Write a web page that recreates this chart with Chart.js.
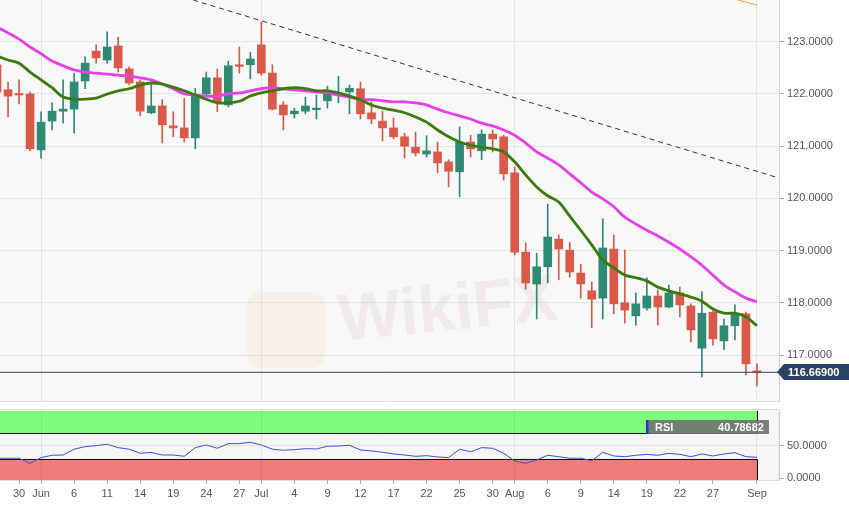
<!DOCTYPE html>
<html>
<head>
<meta charset="utf-8">
<title>EUR/JPY daily</title>
<script src="https://cdn.jsdelivr.net/npm/chart.js@4.4.1/dist/chart.umd.min.js"></script>
<style>
  html, body { margin: 0; padding: 0; background: #fff; }
  #wrap { position: relative; width: 849px; height: 511px; overflow: hidden; }
  #priceChart { position: absolute; left: 0; top: 0; }
  #rsiChart { position: absolute; left: 0; top: 402px; }
</style>
</head>
<body>
<div id="wrap">
  <canvas id="priceChart" width="849" height="402"></canvas>
  <canvas id="rsiChart" width="849" height="109"></canvas>
</div>
<script>
// --- Data ---
const days = [
  '2019-05-28','2019-05-29','2019-05-30','2019-05-31',
  '2019-06-03','2019-06-04','2019-06-05','2019-06-06','2019-06-07',
  '2019-06-10','2019-06-11','2019-06-12','2019-06-13','2019-06-14',
  '2019-06-17','2019-06-18','2019-06-19','2019-06-20','2019-06-21',
  '2019-06-24','2019-06-25','2019-06-26','2019-06-27','2019-06-28',
  '2019-07-01','2019-07-02','2019-07-03','2019-07-04','2019-07-05',
  '2019-07-08','2019-07-09','2019-07-10','2019-07-11','2019-07-12',
  '2019-07-15','2019-07-16','2019-07-17','2019-07-18','2019-07-19',
  '2019-07-22','2019-07-23','2019-07-24','2019-07-25','2019-07-26',
  '2019-07-29','2019-07-30','2019-07-31','2019-08-01','2019-08-02',
  '2019-08-05','2019-08-06','2019-08-07','2019-08-08','2019-08-09',
  '2019-08-12','2019-08-13','2019-08-14','2019-08-15','2019-08-16',
  '2019-08-19','2019-08-20','2019-08-21','2019-08-22','2019-08-23',
  '2019-08-26','2019-08-27','2019-08-28','2019-08-29','2019-08-30',
  '2019-09-02'
];

const opens = [
  122.56,122.08,121.99,122.00,120.93,121.48,121.67,121.71,122.25,122.82,
  122.65,122.92,122.48,122.23,121.64,121.77,121.39,121.35,121.16,122.00,
  122.31,121.79,122.56,122.56,122.94,122.40,121.79,121.62,121.67,121.70,
  121.87,121.98,122.04,122.10,121.64,121.48,121.35,121.18,120.98,120.85,
  120.89,120.70,120.51,121.08,120.91,121.23,121.18,120.49,118.97,118.36,
  118.69,119.22,119.01,118.57,118.23,118.09,119.03,118.00,117.75,117.90,
  118.13,117.92,118.19,117.94,117.13,117.82,117.27,117.56,117.79,116.69
];
const highs = [
  122.70,122.23,122.27,122.04,121.66,121.83,122.27,122.40,122.71,122.94,
  123.19,123.09,122.52,122.27,122.23,121.89,121.66,121.92,122.11,122.42,
  122.48,122.63,122.90,122.80,123.38,122.56,121.85,121.73,121.94,121.98,
  122.15,122.34,122.17,122.23,121.85,121.67,121.54,121.25,121.27,121.20,
  121.08,120.74,121.37,121.21,121.31,121.31,121.21,120.60,119.15,118.95,
  119.89,119.30,119.16,118.74,118.40,119.61,119.30,119.01,118.19,118.48,
  118.25,118.34,118.30,117.98,118.21,117.84,117.69,117.96,117.82,116.83
];
const lows = [
  121.95,121.56,121.81,120.91,120.77,121.31,121.44,121.25,122.10,122.59,
  122.59,122.42,122.17,121.58,121.62,121.06,121.18,121.08,120.95,121.96,
  121.66,121.75,122.40,122.29,122.36,121.69,121.31,121.54,121.62,121.52,
  121.73,121.83,121.62,121.52,121.43,121.10,121.14,120.77,120.81,120.79,
  120.49,120.22,120.03,120.79,120.74,120.89,120.35,118.92,118.26,117.69,
  118.38,118.44,118.49,118.09,117.52,117.69,117.79,117.61,117.57,117.86,
  117.57,117.90,117.73,117.25,116.58,117.19,117.10,117.29,116.62,116.41
];
const closes = [
  122.04,121.96,121.98,120.95,121.46,121.67,121.71,122.23,122.59,122.69,
  122.90,122.50,122.21,121.67,121.77,121.41,121.35,121.16,121.96,122.31,
  121.85,122.54,122.53,122.67,122.40,121.71,121.60,121.67,121.77,121.72,
  122.00,122.02,122.11,121.62,121.52,121.35,121.18,121.00,120.87,120.91,
  120.68,120.52,121.08,120.95,121.23,121.14,120.47,118.97,118.38,118.69,
  119.26,119.03,118.59,118.36,118.07,119.05,117.98,117.86,117.98,118.13,
  117.92,118.19,117.96,117.48,117.80,117.31,117.56,117.79,116.83,116.669
];

// moving averages as drawn (green = fast, magenta = slow)
const maFast = [
  122.73,122.65,122.59,122.42,122.27,122.12,121.94,121.90,121.90,121.92,
  122.00,122.06,122.10,122.17,122.21,122.19,122.13,122.06,121.98,121.90,
  121.83,121.83,121.86,121.96,122.02,122.06,122.10,122.12,122.10,122.06,
  122.06,122.02,121.96,121.89,121.79,121.73,121.69,121.64,121.56,121.46,
  121.31,121.18,121.08,121.02,120.98,120.95,120.89,120.70,120.45,120.22,
  120.05,119.93,119.66,119.39,119.11,118.82,118.67,118.53,118.48,118.42,
  118.30,118.23,118.17,118.11,118.03,117.88,117.80,117.80,117.73,117.56
];
const maSlow = [
  123.28,123.17,123.05,122.90,122.77,122.63,122.54,122.46,122.42,122.40,
  122.38,122.36,122.34,122.31,122.27,122.19,122.10,122.00,121.98,121.96,
  121.96,122.00,122.02,122.06,122.10,122.12,122.10,122.08,122.06,122.04,
  122.02,121.98,121.94,121.90,121.89,121.87,121.85,121.85,121.83,121.79,
  121.71,121.64,121.58,121.52,121.44,121.39,121.31,121.21,121.06,120.89,
  120.77,120.64,120.47,120.30,120.12,119.99,119.84,119.64,119.51,119.39,
  119.28,119.16,119.03,118.88,118.72,118.53,118.34,118.21,118.09,118.02
];

const rsi = [
  31,31,31,23,32,35.6,36,45,49,50.5,
  52.6,47.4,45,38.7,40,36,36,34,47.4,51.5,
  46.4,53.6,53.6,55.7,51.5,45,43.3,44.3,45.8,45.4,
  49.5,50,51,43.8,42.3,40.2,37.6,36,34,35,
  33,32,45,41,47.4,46.4,38.7,26.8,23.2,28.3,
  35.6,33.4,31,31,27.2,40.2,34.5,33.4,35.6,37,
  35.6,38.7,37,33.4,37.6,34.5,37.6,39.6,33.4,32.5
];

// trend lines (x in bar positions, y in price)
const trendX = [10, 71];
const trendY = [124.30, 120.39];
const upperX = [66, 69];
const upperY = [123.87, 123.705];

const lastPrice = 116.669;
const rsiLast = 40.78682;
const rsiUpper = 70;
const rsiLower = 30;

const priceTicks = [117, 118, 119, 120, 121, 122, 123];
const rsiTicks = [0, 50];
const monthStarts = ['2019-06-03', '2019-07-01', '2019-08-01', '2019-09-02'];
const xTickDays = [
  '2019-05-30','2019-06-03','2019-06-06','2019-06-11','2019-06-14','2019-06-19',
  '2019-06-24','2019-06-27','2019-07-01','2019-07-04','2019-07-09','2019-07-12',
  '2019-07-17','2019-07-22','2019-07-25','2019-07-30','2019-08-01','2019-08-06',
  '2019-08-09','2019-08-14','2019-08-19','2019-08-22','2019-08-27','2019-09-02'
];
const xTickLabels = [
  '30','Jun','6','11','14','19','24','27','Jul','4','9','12',
  '17','22','25','30','Aug','6','9','14','19','22','27','Sep'
];

// --- View settings ---
const X_MIN = 0.27, X_MAX = 71;
const UP = '#2f8a74', DOWN = '#da5a49';
const GRID = '#e4e4e4';

Chart.defaults.font.family = '"Liberation Sans", Arial, sans-serif';
Chart.defaults.font.size = 11;
Chart.defaults.color = '#555';

const idx = d => days.indexOf(d);
const candleColor = c => closes[c.dataIndex] >= opens[c.dataIndex] ? UP : DOWN;
const pts = (xs, ys) => xs.map((x, i) => ({ x: x, y: ys[i] }));

// --- Price panel ---
const pricePanel = {
    id: 'pricePanel',
    beforeDraw(chart) {
        const { ctx, chartArea: a } = chart;
        ctx.save();
        ctx.fillStyle = '#fff';
        ctx.fillRect(0, 0, chart.width, chart.height);
        ctx.fillStyle = '#f8f8f8';
        ctx.fillRect(a.left, a.top, a.width, a.height);
        ctx.strokeStyle = '#dcdcdc';
        ctx.beginPath();
        ctx.moveTo(a.left, a.bottom + 0.5);
        ctx.lineTo(a.right, a.bottom + 0.5);
        ctx.stroke();
        ctx.restore();
    },
    beforeDatasetsDraw(chart) {
        // faint site watermark
        const { ctx, chartArea: a } = chart;
        ctx.save();
        ctx.fillStyle = 'rgba(240, 195, 120, 0.13)';
        ctx.beginPath();
        ctx.roundRect(a.left + 247, a.top + 292, 78, 76, 14);
        ctx.fill();
        ctx.translate(a.left + 448, a.top + 312);
        ctx.rotate(-0.1);
        ctx.font = 'bold 66px "Liberation Sans", Arial, sans-serif';
        ctx.fillStyle = 'rgba(190, 170, 170, 0.16)';
        ctx.textAlign = 'center';
        ctx.textBaseline = 'middle';
        ctx.fillText('WikiFX', 0, 0);
        ctx.restore();
    },
    afterDraw(chart) {
        const { ctx, chartArea: a, scales: { y } } = chart;
        const py = Math.round(y.getPixelForValue(lastPrice));
        ctx.save();
        ctx.fillStyle = '#2c4262';
        ctx.beginPath();
        ctx.moveTo(a.right - 2, py);
        ctx.lineTo(a.right + 5, py - 8);
        ctx.lineTo(chart.width, py - 8);
        ctx.lineTo(chart.width, py + 8);
        ctx.lineTo(a.right + 5, py + 8);
        ctx.closePath();
        ctx.fill();
        ctx.fillStyle = '#fff';
        ctx.font = 'bold 11px "Liberation Sans", Arial, sans-serif';
        ctx.textBaseline = 'middle';
        ctx.fillText(lastPrice.toFixed(5), a.right + 9, py + 0.5);
        ctx.restore();
    }
};

new Chart(document.getElementById('priceChart'), {
    type: 'bar',
    data: {
        datasets: [
            {
                label: 'Trend',
                type: 'line',
                data: pts(trendX, trendY),
                borderColor: '#333',
                borderWidth: 1,
                borderDash: [5, 4],
                pointRadius: 0,
                order: 0
            },
            {
                label: 'Upper',
                type: 'line',
                data: pts(upperX, upperY),
                borderColor: '#f0a436',
                borderWidth: 1,
                pointRadius: 0,
                order: 0
            },
            {
                label: 'Slow MA',
                type: 'line',
                data: maSlow.map((v, i) => ({ x: i, y: v })),
                borderColor: '#e83fe8',
                borderWidth: 2.8,
                pointRadius: 0,
                tension: 0.3,
                order: 1
            },
            {
                label: 'Fast MA',
                type: 'line',
                data: maFast.map((v, i) => ({ x: i, y: v })),
                borderColor: '#3b7b0c',
                borderWidth: 2.8,
                pointRadius: 0,
                tension: 0.3,
                order: 0
            },
            {
                label: 'Last',
                type: 'line',
                data: [{ x: X_MIN, y: lastPrice }, { x: X_MAX, y: lastPrice }],
                borderColor: '#2c4262',
                borderWidth: 1,
                pointRadius: 0,
                order: 2
            },
            {
                label: 'Body',
                data: days.map((d, i) => ({ x: i, y: [opens[i], closes[i]] })),
                backgroundColor: candleColor,
                barThickness: 8,
                minBarLength: 1.5,
                grouped: false,
                order: 3
            },
            {
                label: 'Wick',
                data: days.map((d, i) => ({ x: i, y: [lows[i], highs[i]] })),
                backgroundColor: candleColor,
                barThickness: 1,
                grouped: false,
                order: 4
            }
        ]
    },
    options: {
        responsive: false,
        animation: false,
        layout: { padding: { top: 0, right: 0, bottom: 1, left: 0 } },
        plugins: { legend: { display: false }, tooltip: { enabled: false } },
        scales: {
            x: {
                type: 'linear',
                min: X_MIN,
                max: X_MAX,
                offset: false,
                afterBuildTicks: s => { s.ticks = monthStarts.map(d => ({ value: idx(d) })); },
                afterFit: s => { s.height = 0; s.paddingLeft = 0; s.paddingRight = 0; },
                ticks: { display: false },
                grid: { color: GRID, drawTicks: false, offset: false },
                border: { display: false }
            },
            y: {
                type: 'linear',
                position: 'right',
                min: 116.119,
                max: 123.80,
                beginAtZero: false,
                afterBuildTicks: s => { s.ticks = priceTicks.map(v => ({ value: v })); },
                afterFit: s => { s.width = 70; s.paddingTop = 0; s.paddingBottom = 0; },
                ticks: { callback: v => v.toFixed(4), padding: 3, color: '#555' },
                grid: { color: GRID, tickLength: 5, tickColor: '#aaa' },
                border: { color: '#cfcfcf' }
            }
        }
    },
    plugins: [pricePanel]
});

// --- RSI panel ---
const rsiPanel = {
    id: 'rsiPanel',
    beforeDraw(chart) {
        const { ctx, chartArea: a, scales: { x, y } } = chart;
        const xEnd = x.getPixelForValue(days.length - 1);
        const yUp = y.getPixelForValue(rsiUpper);
        const yLo = y.getPixelForValue(rsiLower);
        ctx.save();
        ctx.fillStyle = '#fff';
        ctx.fillRect(0, 0, chart.width, chart.height);
        ctx.fillStyle = '#f6f6f6';
        ctx.fillRect(a.left, a.top - 2, a.width, a.height + 2);
        ctx.strokeStyle = '#dcdcdc';
        ctx.strokeRect(a.left - 0.5, a.top - 1.5, a.width + 0.5, a.height + 2);
        ctx.fillStyle = '#7efc7e';
        ctx.fillRect(a.left, a.top, xEnd - a.left, yUp - a.top);
        ctx.fillStyle = '#f07b7b';
        ctx.fillRect(a.left, yLo, xEnd - a.left, a.bottom - yLo);
        ctx.restore();
    },
    beforeDatasetsDraw(chart) {
        const { ctx, chartArea: a, scales: { x, y } } = chart;
        const xEnd = Math.round(x.getPixelForValue(days.length - 1)) + 0.5;
        const yUp = Math.round(y.getPixelForValue(rsiUpper)) + 0.5;
        const yLo = Math.round(y.getPixelForValue(rsiLower)) + 0.5;
        ctx.save();
        ctx.strokeStyle = '#111';
        ctx.lineWidth = 1;
        ctx.beginPath();
        ctx.moveTo(a.left, yUp); ctx.lineTo(xEnd, yUp);
        ctx.moveTo(a.left, yLo); ctx.lineTo(xEnd, yLo);
        ctx.moveTo(xEnd, a.top); ctx.lineTo(xEnd, yUp);
        ctx.moveTo(xEnd, yLo); ctx.lineTo(xEnd, a.bottom);
        ctx.stroke();
        ctx.restore();
    },
    afterDraw(chart) {
        const { ctx, chartArea: a, scales: { x } } = chart;
        const right = x.getPixelForValue(days.length - 1) + 12;
        const left = right - 123;
        const top = a.top + 9;
        ctx.save();
        ctx.fillStyle = 'rgba(112, 116, 112, 0.92)';
        ctx.fillRect(left, top, right - left, 14);
        ctx.fillStyle = '#2233dd';
        ctx.fillRect(left, top, 2.5, 14);
        ctx.fillStyle = '#fff';
        ctx.font = 'bold 11px "Liberation Sans", Arial, sans-serif';
        ctx.textBaseline = 'middle';
        ctx.textAlign = 'left';
        ctx.fillText('RSI', left + 9, top + 7.5);
        ctx.textAlign = 'right';
        ctx.fillText(rsiLast.toFixed(5), right - 5, top + 7.5);
        ctx.restore();
    }
};

new Chart(document.getElementById('rsiChart'), {
    type: 'line',
    data: {
        datasets: [{
            label: 'RSI',
            data: rsi.map((v, i) => ({ x: i, y: v })),
            borderColor: '#3c4fd8',
            borderWidth: 1,
            pointRadius: 0,
            tension: 0
        }]
    },
    options: {
        responsive: false,
        animation: false,
        layout: { padding: { top: 9, right: 0, bottom: 0, left: 0 } },
        plugins: { legend: { display: false }, tooltip: { enabled: false } },
        scales: {
            x: {
                type: 'linear',
                min: X_MIN,
                max: X_MAX,
                offset: false,
                afterBuildTicks: s => { s.ticks = xTickDays.map(d => ({ value: idx(d) })); },
                afterFit: s => { s.height = 31; s.paddingLeft = 0; s.paddingRight = 0; },
                ticks: {
                    callback: (v, k) => xTickLabels[k],
                    autoSkip: false,
                    maxRotation: 0,
                    padding: 3,
                    color: '#555'
                },
                grid: {
                    color: c => monthStarts.includes(days[c.tick.value]) ? 'rgba(0,0,0,0.07)' : 'transparent',
                    tickLength: 4,
                    tickColor: '#aaa'
                },
                border: { display: false }
            },
            y: {
                type: 'linear',
                position: 'right',
                min: -2.6,
                max: 104,
                afterBuildTicks: s => { s.ticks = rsiTicks.map(v => ({ value: v })); },
                afterFit: s => { s.width = 70; s.paddingTop = 0; s.paddingBottom = 0; },
                ticks: { callback: v => v.toFixed(4), padding: 3, color: '#555' },
                grid: {
                    color: c => c.tick.value === 0 ? 'transparent' : 'rgba(0,0,0,0.08)',
                    tickLength: 5,
                    tickColor: '#aaa'
                },
                border: { color: '#cfcfcf' }
            }
        }
    },
    plugins: [rsiPanel]
});
</script>
</body>
</html>
